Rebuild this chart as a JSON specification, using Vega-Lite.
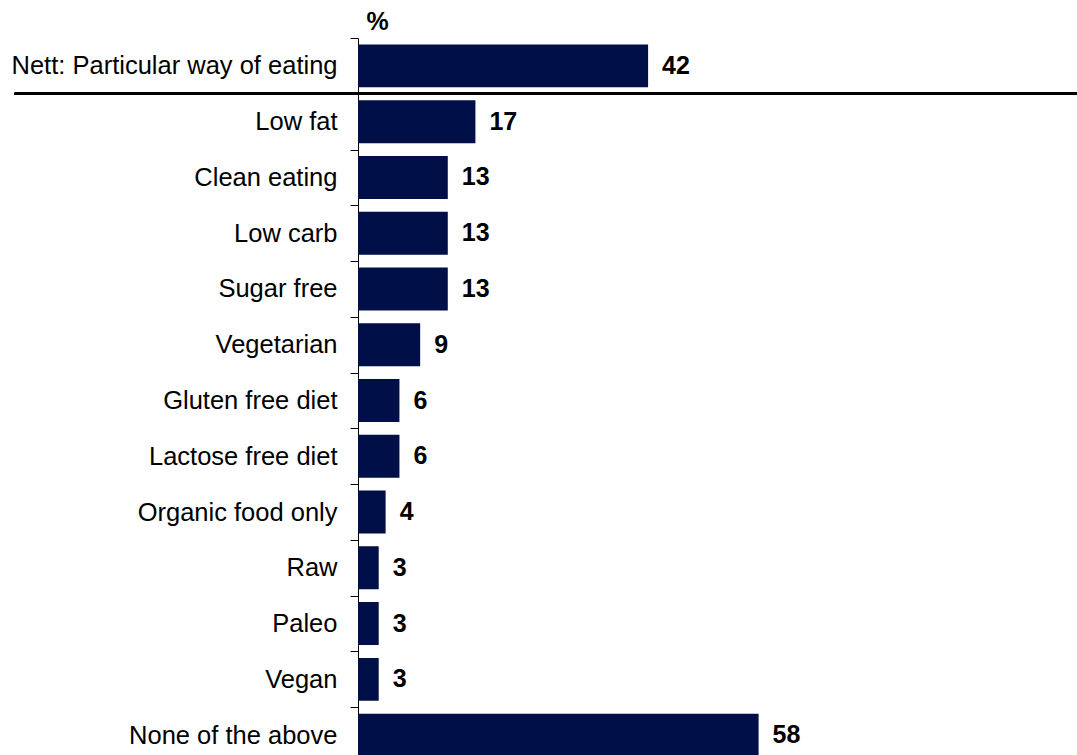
{
  "$schema": "https://vega.github.io/schema/vega-lite/v6.json",
  "width": 719,
  "height": 725,
  "autosize": {"type": "none"},
  "padding": {"left": 358, "top": 38, "right": 0, "bottom": 0},
  "background": "white",
  "config": {"view": {"stroke": null}, "font": "Liberation Sans"},
  "data": {
    "values": [
      {"item": "Nett: Particular way of eating", "pct": 42},
      {"item": "Low fat", "pct": 17},
      {"item": "Clean eating", "pct": 13},
      {"item": "Low carb", "pct": 13},
      {"item": "Sugar free", "pct": 13},
      {"item": "Vegetarian", "pct": 9},
      {"item": "Gluten free diet", "pct": 6},
      {"item": "Lactose free diet", "pct": 6},
      {"item": "Organic food only", "pct": 4},
      {"item": "Raw", "pct": 3},
      {"item": "Paleo", "pct": 3},
      {"item": "Vegan", "pct": 3},
      {"item": "None of the above", "pct": 58}
    ]
  },
  "layer": [
    {
      "mark": {"type": "bar", "color": "#000f47", "height": {"band": 0.77}},
      "encoding": {
        "y": {
          "field": "item", "type": "nominal", "sort": null,
          "scale": {"paddingInner": 0, "paddingOuter": 0},
          "axis": {
            "title": "%", "titleAngle": 0, "titleAlign": "left", "titleBaseline": "middle",
            "titleX": 8, "titleY": -17, "titleFontSize": 25, "titleFontWeight": "bold", "titleColor": "black",
            "labelFontSize": 25.5, "labelColor": "black", "labelPadding": 13, "labelLimit": 400,
            "tickSize": 8, "tickColor": "black", "domainColor": "black", "tickBand": "extent"
          }
        },
        "x": {"field": "pct", "type": "quantitative", "scale": {"domain": [0, 104.1], "nice": false, "zero": true}, "axis": null}
      }
    },
    {
      "mark": {"type": "text", "align": "left", "dx": 14, "fontSize": 25, "fontWeight": "bold", "color": "black"},
      "encoding": {
        "y": {"field": "item", "type": "nominal", "sort": null},
        "x": {"field": "pct", "type": "quantitative"},
        "text": {"field": "pct"}
      }
    },
    {
      "mark": {"type": "rule", "strokeWidth": 2, "color": "black"},
      "encoding": {
        "y": {"datum": "Low fat", "bandPosition": 0},
        "x": {"datum": -49.7},
        "x2": {"datum": 104.1}
      }
    }
  ]
}
